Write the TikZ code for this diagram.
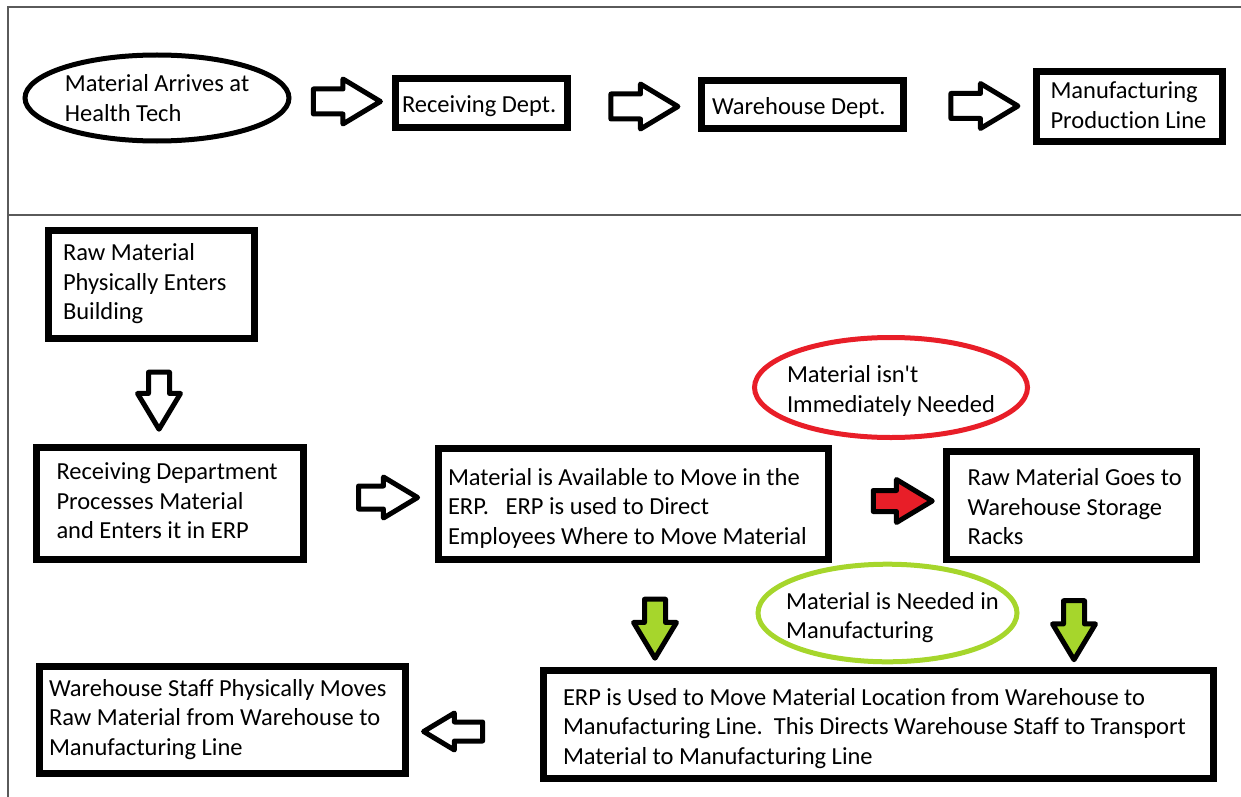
\documentclass[tikz,border=0pt]{standalone}
\usepackage{fontspec}
\setmainfont{Carlito}[Ligatures=NoCommon]
\usetikzlibrary{shapes.geometric,shapes.arrows}
\definecolor{framegray}{RGB}{90,90,90}
\definecolor{alertred}{RGB}{232,30,40}
\definecolor{limegreen}{RGB}{166,214,44}
\newcommand{\flowfont}{\fontsize{24.5}{29.5}\selectfont}
% lines set left, lowered a little inside their node
\newcommand{\lowered}[2]{\raisebox{0pt}[\dimexpr\height+#1+#1\relax][\depth]{#2}}
\newcommand{\steplines}[3][0pt]{\lowered{#1}{\makebox[#2][l]{\begin{tabular}{@{}l@{}}#3\end{tabular}}}}
\tikzset{
  stepbox/.style={draw, line width=7pt, inner ysep=0pt, font=\flowfont},
  bubble/.style={ellipse, draw, line width=5pt, align=left, inner ysep=0pt, font=\flowfont},
  barrow/.style={single arrow, draw, line width=5pt, line join=round, fill=white,
    inner xsep=0pt, inner ysep=8pt, single arrow head extend=11pt,
    single arrow tip angle=62, minimum height=59pt, minimum width=37pt},
  toparrow/.style={barrow, inner ysep=10pt, single arrow head extend=10pt,
    minimum height=67pt, minimum width=40pt}
}
\begin{document}
\begin{tikzpicture}[x=1pt,y=-1pt]
\useasboundingbox (0,0) rectangle (1241,797);
% frame
\draw[framegray, line width=1.5pt] (1241,7) -- (8,7) -- (8,797);
\draw[framegray, line width=1.5pt] (8,215) -- (1241,215);
% top row
\node[bubble, minimum width=264pt, minimum height=86pt, inner xsep=0pt] (arrive) at (157,98) {Material Arrives at\\Health Tech};
\node[stepbox, minimum width=172pt, minimum height=49pt, inner xsep=6.5pt] (recv) at (481.5,103) {\steplines[4pt]{159pt}{Receiving Dept.}};
\node[stepbox, minimum width=202pt, minimum height=48pt, inner xsep=10.5pt] (whse) at (802.5,104.5) {\steplines[4pt]{181pt}{Warehouse Dept.}};
\node[stepbox, minimum width=186pt, minimum height=70pt, inner xsep=14pt] (mfg) at (1129.5,106.5) {\steplines[1pt]{158pt}{Manufacturing\\Production Line}};
\node[toparrow] (ta1) at (336.5,101.5) {};
\node[toparrow] (ta2) at (634,106.5) {};
\node[toparrow] (ta3) at (974,106) {};
% bottom flow
\node[stepbox, minimum width=206pt, minimum height=108pt, inner xsep=14.5pt] (raw) at (151.5,284.5) {\steplines{177pt}{Raw Material\\Physically Enters\\Building}};
\node[stepbox, minimum width=267pt, minimum height=112pt, inner xsep=20pt] (proc) at (170,503.5) {\steplines{227pt}{Receiving Department\\Processes Material\\and Enters it in ERP}};
\node[stepbox, minimum width=390pt, minimum height=111pt, inner xsep=9.5pt] (erp) at (633.5,504) {\steplines[5pt]{371pt}{Material is Available to Move in the\\ERP.\ \ \ ERP is used to Direct\\Employees Where to Move Material}};
\node[stepbox, minimum width=250pt, minimum height=108pt, inner xsep=21pt] (rack) at (1071.5,505.5) {\steplines[4pt]{208pt}{Raw Material Goes to\\Warehouse Storage\\Racks}};
\node[stepbox, minimum width=670pt, minimum height=108pt, inner xsep=19.5pt] (move) at (878.5,724.5) {\steplines[4.5pt]{631pt}{ERP is Used to Move Material Location from Warehouse to\\Manufacturing Line.\ \ This Directs Warehouse Staff to Transport\\Material to Manufacturing Line}};
\node[stepbox, minimum width=366pt, minimum height=107pt, inner xsep=9.5pt] (staff) at (222.5,720) {\steplines{347pt}{Warehouse Staff Physically Moves\\Raw Material from Warehouse to\\Manufacturing Line}};
\node[bubble, draw=alertred, minimum width=273pt, minimum height=100pt, inner xsep=-30pt] (notyet) at (891,387.5) {\lowered{4pt}{\begin{tabular}{@{}l@{}}Material isn\textquotesingle t\\Immediately Needed\end{tabular}}};
\node[bubble, draw=limegreen, minimum width=259pt, minimum height=94pt, inner xsep=-30pt] (needed) at (887.5,613) {\lowered{5pt}{\hspace*{10pt}\begin{tabular}{@{}l@{}}Material is Needed in\\Manufacturing\end{tabular}}};
\node[barrow, rotate=-90, minimum height=57pt] (ba1) at (159,392) {};
\node[barrow, inner ysep=9pt, single arrow head extend=9pt] (ba2) at (378.5,497.5) {};
\node[barrow, fill=alertred] (ba3) at (894,501) {};
\node[barrow, rotate=-90, fill=limegreen] (ba4) at (655,620) {};
\node[barrow, rotate=-90, fill=limegreen] (ba5) at (1074,621.5) {};
\node[barrow, rotate=180, inner ysep=7pt, minimum width=32pt, single arrow head extend=9pt] (ba6) at (461,731.5) {};
\end{tikzpicture}
\end{document}
